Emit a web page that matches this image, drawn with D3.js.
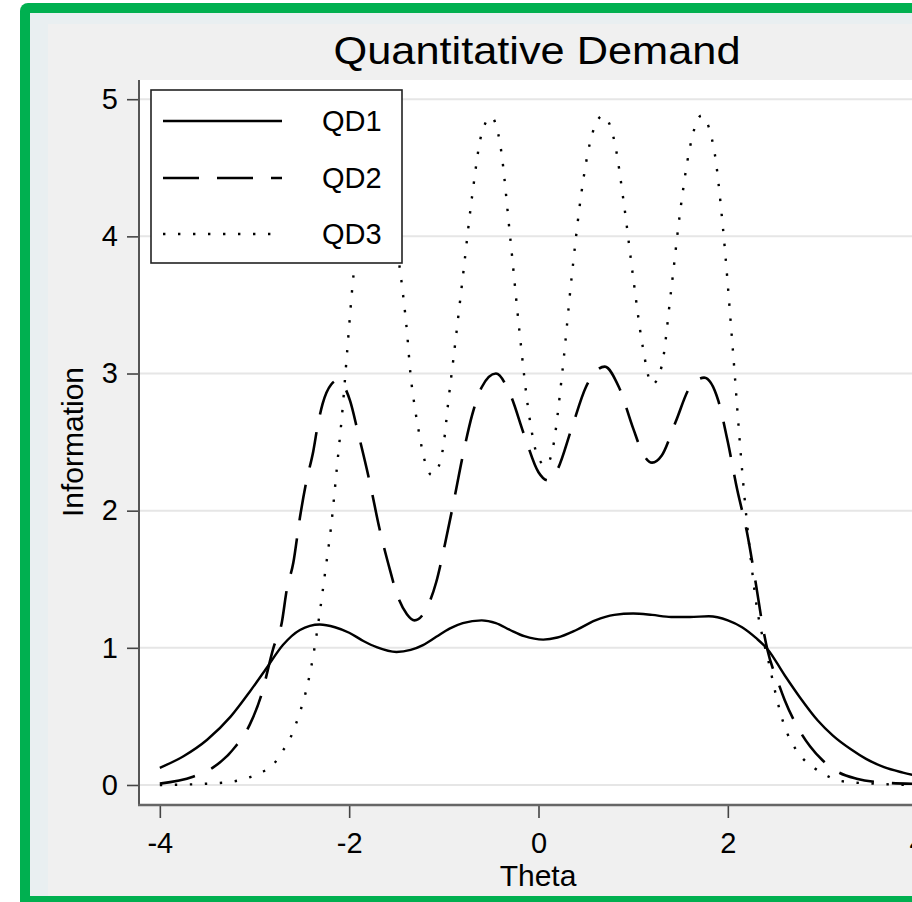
<!DOCTYPE html>
<html>
<head>
<meta charset="utf-8">
<script src="https://cdn.jsdelivr.net/npm/d3@7"></script>
<style>
  html, body { margin: 0; padding: 0; background: #ffffff; }
  svg { display: block; }
  text { font-family: "Liberation Sans", Arial, "DejaVu Sans", sans-serif; fill: #000; }
</style>
</head>
<body>
<div id="chart"></div>
<script>
// ---- data ----
const title = "Quantitative Demand";
const xLabel = "Theta";
const yLabel = "Information";
const seriesNames = ["QD1", "QD2", "QD3"];
const xTicks = [-4, -2, 0, 2, 4];
const yTicks = [0, 1, 2, 3, 4, 5];

const qd1Theta = [-4.0,-3.75,-3.5,-3.25,-3.05,-2.87,-2.7,-2.52,-2.31,-2.15,-2.0,-1.85,-1.71,-1.5,-1.35,-1.22,-1.08,-0.94,-0.8,-0.6,-0.45,-0.3,-0.15,0.05,0.2,0.4,0.6,0.8,1.0,1.2,1.4,1.6,1.8,2.0,2.15,2.3,2.42,2.6,2.76,2.95,3.11,3.3,3.46,3.65,3.85,4.0];
const qd1Info  = [0.125,0.21,0.33,0.50,0.68,0.855,1.02,1.13,1.17,1.15,1.11,1.05,1.005,0.97,0.985,1.02,1.08,1.14,1.18,1.20,1.18,1.13,1.085,1.06,1.075,1.13,1.20,1.24,1.25,1.24,1.225,1.225,1.23,1.20,1.15,1.07,0.99,0.80,0.64,0.47,0.36,0.26,0.19,0.13,0.09,0.065];

const qd2Theta = [-4.0,-3.65,-3.44,-3.19,-3.05,-2.93,-2.80,-2.71,-2.66,-2.59,-2.52,-2.45,-2.38,-2.33,-2.28,-2.19,-2.12,-1.99,-1.91,-1.78,-1.68,-1.57,-1.50,-1.39,-1.31,-1.18,-1.08,-0.99,-0.90,-0.8,-0.7,-0.6,-0.45,-0.3,-0.15,0.0,0.1,0.2,0.35,0.5,0.7,0.85,1.0,1.1,1.2,1.3,1.45,1.6,1.75,1.9,2.0,2.1,2.2,2.3,2.37,2.42,2.53,2.6,2.73,2.87,3.0,3.15,3.36,3.6,4.0];
const qd2Info  = [0.01,0.06,0.126,0.29,0.44,0.65,1.0,1.19,1.42,1.62,1.95,2.22,2.43,2.63,2.78,2.92,2.95,2.80,2.58,2.20,1.87,1.57,1.40,1.245,1.20,1.29,1.48,1.75,2.05,2.4,2.7,2.9,3.0,2.85,2.55,2.28,2.22,2.30,2.60,2.90,3.05,2.90,2.60,2.42,2.35,2.40,2.65,2.90,2.97,2.80,2.50,2.15,1.85,1.45,1.15,0.98,0.75,0.62,0.43,0.28,0.18,0.10,0.046,0.02,0.008];

const qd3Theta = [-4.0,-3.54,-3.23,-3.08,-2.94,-2.80,-2.71,-2.63,-2.57,-2.52,-2.44,-2.38,-2.31,-2.25,-2.19,-2.13,-2.07,-2.02,-1.97,-1.92,-1.85,-1.78,-1.71,-1.63,-1.55,-1.48,-1.44,-1.39,-1.35,-1.31,-1.26,-1.20,-1.13,-1.05,-0.99,-0.96,-0.90,-0.8,-0.7,-0.6,-0.5,-0.4,-0.3,-0.2,-0.1,0.0,0.08,0.15,0.25,0.35,0.45,0.55,0.68,0.8,0.9,1.0,1.1,1.2,1.3,1.4,1.5,1.6,1.72,1.85,1.95,2.05,2.15,2.25,2.31,2.36,2.43,2.5,2.57,2.62,2.70,2.79,2.92,3.05,3.18,3.53,4.0];
const qd3Info  = [0.0,0.008,0.025,0.05,0.088,0.15,0.24,0.33,0.43,0.53,0.73,0.94,1.26,1.57,1.89,2.31,2.74,3.17,3.60,3.95,4.45,4.78,4.87,4.72,4.35,3.85,3.63,3.31,2.98,2.77,2.56,2.36,2.26,2.33,2.55,2.75,3.1,3.7,4.3,4.75,4.87,4.65,4.0,3.3,2.7,2.38,2.33,2.45,3.0,3.7,4.3,4.7,4.88,4.7,4.25,3.7,3.2,2.92,3.05,3.6,4.2,4.65,4.88,4.65,4.05,3.2,2.3,1.6,1.28,1.1,0.9,0.68,0.49,0.39,0.28,0.195,0.12,0.066,0.03,0.01,0.0];

// ---- layout ----
const W = 912, H = 902;
const svg = d3.select("#chart").append("svg").attr("width", W).attr("height", H);

// outer frame
svg.append("rect").attr("x", 0).attr("y", 0).attr("width", W).attr("height", H).attr("fill", "#ffffff");
svg.append("rect").attr("x", 20).attr("y", 3).attr("width", W + 40).attr("height", H + 40)
   .attr("rx", 8).attr("fill", "#00b050");
svg.append("rect").attr("x", 30).attr("y", 13).attr("width", W).attr("height", 883).attr("fill", "#e9eff1");
svg.append("rect").attr("x", 48).attr("y", 24).attr("width", W).attr("height", 872).attr("fill", "#f0f0f0");

const plot = { left: 139, top: 80, right: 938, bottom: 805 };
const x = d3.scaleLinear().domain([-4.22, 4.22]).range([plot.left, plot.right]);
const y = d3.scaleLinear().domain([-0.146, 5.14]).range([plot.bottom, plot.top]);

svg.append("rect").attr("x", plot.left).attr("y", plot.top)
   .attr("width", plot.right - plot.left).attr("height", plot.bottom - plot.top).attr("fill", "#ffffff");

// gridlines
svg.append("g").selectAll("line").data(yTicks).join("line")
   .attr("x1", plot.left).attr("x2", plot.right)
   .attr("y1", d => y(d)).attr("y2", d => y(d))
   .attr("stroke", "#e6e6e6").attr("stroke-width", 2);

// curves
const series = [
  { name: seriesNames[0], theta: qd1Theta, info: qd1Info, dash: null, width: 2.4 },
  { name: seriesNames[1], theta: qd2Theta, info: qd2Info, dash: "36,18", width: 2.6 },
  { name: seriesNames[2], theta: qd3Theta, info: qd3Info, dash: "2.4,12.6", width: 2.4 }
];
const line = d3.line().x(d => x(d[0])).y(d => y(d[1])).curve(d3.curveMonotoneX);

svg.append("defs").append("clipPath").attr("id", "clip")
   .append("rect").attr("x", plot.left).attr("y", plot.top)
   .attr("width", plot.right - plot.left).attr("height", plot.bottom - plot.top);

const gCurves = svg.append("g").attr("clip-path", "url(#clip)");
series.forEach(s => {
  const pts = s.theta.map((t, i) => [t, s.info[i]]);
  gCurves.append("path").datum(pts)
    .attr("d", line)
    .attr("fill", "none")
    .attr("stroke", "#000")
    .attr("stroke-width", s.width)
    .attr("stroke-dasharray", s.dash)
    .attr("stroke-linejoin", "round");
});

// axes
const fmt = d => String(d);
const yAxis = d3.axisLeft(y).tickValues(yTicks).tickSize(12).tickPadding(9).tickFormat(fmt);
const gy = svg.append("g").attr("transform", `translate(${plot.left},0)`).call(yAxis);
gy.select(".domain").remove();
gy.selectAll(".tick line").attr("stroke", "#444").attr("stroke-width", 1.6);
gy.selectAll(".tick text").style("font-size", "29px").attr("fill", "#000");
svg.append("line").attr("x1", plot.left).attr("x2", plot.left).attr("y1", plot.top).attr("y2", plot.bottom)
   .attr("stroke", "#555").attr("stroke-width", 2);

const xAxis = d3.axisBottom(x).tickValues(xTicks).tickSize(13).tickPadding(14).tickFormat(fmt);
const gx = svg.append("g").attr("transform", `translate(0,${plot.bottom})`).call(xAxis);
gx.select(".domain").remove();
gx.selectAll(".tick line").attr("stroke", "#444").attr("stroke-width", 1.6);
gx.selectAll(".tick text").style("font-size", "29px").attr("fill", "#000");
svg.append("line").attr("x1", plot.left - 1).attr("x2", plot.right).attr("y1", plot.bottom).attr("y2", plot.bottom)
   .attr("stroke", "#666").attr("stroke-width", 2.4);

// titles
svg.append("text").attr("x", 537).attr("y", 64).attr("text-anchor", "middle")
   .style("font-size", "39px").attr("textLength", 407).attr("lengthAdjust", "spacingAndGlyphs").text(title);
svg.append("text").attr("x", 538).attr("y", 886).attr("text-anchor", "middle")
   .style("font-size", "30px").text(xLabel);
svg.append("text").attr("transform", "translate(83,442) rotate(-90)").attr("text-anchor", "middle")
   .style("font-size", "30px").text(yLabel);

// legend
const lg = svg.append("g");
lg.append("rect").attr("x", 151).attr("y", 90).attr("width", 251).attr("height", 173)
  .attr("fill", "#fff").attr("stroke", "#222").attr("stroke-width", 1.6);
const legY = [121, 178, 234];
series.forEach((s, i) => {
  lg.append("line").attr("x1", 163).attr("x2", 282).attr("y1", legY[i]).attr("y2", legY[i])
    .attr("stroke", "#000").attr("stroke-width", s.width).attr("stroke-dasharray", s.dash);
  lg.append("text").attr("x", 322).attr("y", legY[i]).attr("dy", "0.36em")
    .style("font-size", "29px").text(s.name);
});
</script>
</body>
</html>
